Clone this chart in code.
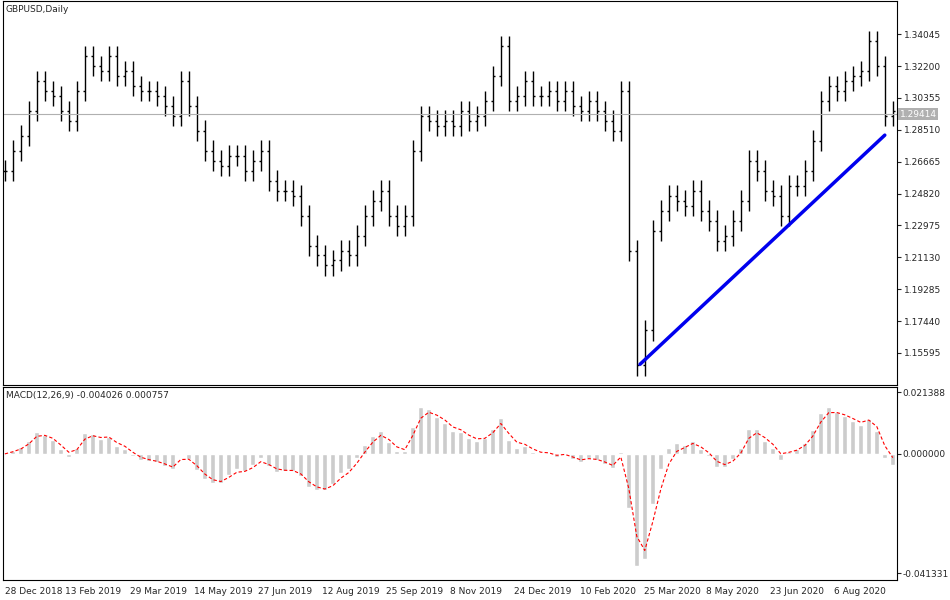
import numpy as np, pandas as pd, matplotlib
matplotlib.use("Agg")
import matplotlib.pyplot as plt, seaborn as sns

sns.set_style("white")
plt.rcParams['font.family'] = ['DejaVu Sans']

# price path (read every ~4 trading days), in screen-y units converted below
ys = [170,150,135,110,80,90,95,110,120,90,55,65,70,55,75,70,85,90,90,95,105,115,80,105,130,150,160,165,155,155,
      170,160,150,180,190,190,195,215,245,255,265,260,250,255,235,215,200,190,215,225,215,150,115,120,125,120,125,110,120,115,
      100,75,45,100,95,80,95,95,90,100,90,105,110,100,110,120,130,90,250,365,330,230,210,195,200,205,190,210,220,240,
      235,220,200,160,170,190,195,215,185,185,170,140,100,85,90,80,75,70,40,65,115,110]
close = [round(1.34045 - (y - 33) * 0.000577, 4) for y in ys]
date_labels = ["28 Dec 2018","13 Feb 2019","29 Mar 2019","14 May 2019","27 Jun 2019","12 Aug 2019","25 Sep 2019",
               "8 Nov 2019","24 Dec 2019","10 Feb 2020","25 Mar 2020","8 May 2020","23 Jun 2020","6 Aug 2020"]
label_px = [5,65,130,194,258,322,386,450,514,580,644,706,770,834]
trend_idx = [79.4, 110.0]
trend_px = [1.1494, 1.2820]
last_price = 1.29414

df = pd.DataFrame({"i": np.arange(len(close)), "c": close})
df["o"] = df["c"].shift(1).fillna(df["c"])
df["h"] = df[["o", "c"]].max(axis=1) + 0.006
df["l"] = df[["o", "c"]].min(axis=1) - 0.006
s = df["c"]
macd = s.ewm(span=3).mean() - s.ewm(span=6.5).mean()
sig = macd.ewm(span=2.25).mean()

fig = plt.figure(figsize=(9.5, 6), dpi=100)
ax = fig.add_axes([0.003, 0.358, 0.941, 0.640])
ax2 = fig.add_axes([0.003, 0.033, 0.941, 0.322])
for a in (ax, ax2):
    a.set_xlim(-0.25, 111.5)
    for sp in a.spines.values():
        sp.set_color("black"); sp.set_linewidth(0.8)

ax.vlines(df["i"], df["l"], df["h"], color="black", lw=1)
ax.hlines(df["o"], df["i"] - 0.25, df["i"], color="black", lw=1)
ax.hlines(df["c"], df["i"], df["i"] + 0.25, color="black", lw=1)
ax.axhline(last_price, color="#b0b0b0", lw=0.8)
sns.lineplot(x=trend_idx, y=trend_px, ax=ax, color="#0000ee", lw=2.5)
ax.set_ylim(1.1373, 1.3595)
ax.set_xticks([])
ax.yaxis.tick_right()
ax.set_yticks([1.34045,1.32200,1.30355,1.28510,1.26665,1.24820,1.22975,1.21130,1.19285,1.17440,1.15595])
ax.set_yticklabels([f"{v:.5f}" for v in ax.get_yticks()], fontsize=6.5)
ax.tick_params(axis="y", length=3, pad=2)
ax.text(1.003, (last_price - 1.1373) / (1.3595 - 1.1373), f"{last_price:.5f}", transform=ax.transAxes,
        fontsize=6.5, color="white", va="center", ha="left",
        bbox=dict(facecolor="#b0b0b0", edgecolor="none", pad=1))
ax.text(0.003, 0.99, "GBPUSD,Daily", transform=ax.transAxes, fontsize=6.5, va="top")

ax2.bar(df["i"], macd, width=0.6, color="#cccccc")
ax2.plot(df["i"], sig, color="red", lw=0.8, ls=(0, (3, 2)))
ax2.set_ylim(-0.0438, 0.0232)
ax2.yaxis.tick_right()
ax2.set_yticks([0.021388, 0.0, -0.041331])
ax2.set_yticklabels(["0.021388", "0.000000", "-0.041331"], fontsize=6.5)
ax2.tick_params(axis="y", length=3, pad=1)
ax2.text(0.003, 0.98, "MACD(12,26,9) -0.004026 0.000757", transform=ax2.transAxes, fontsize=6.5, va="top")
ax2.set_xticks([(p - 5) / 8 for p in label_px])
ax2.set_xticklabels(date_labels, fontsize=6.5, ha="left")
ax2.tick_params(axis="x", length=3, pad=2)

fig.savefig("out.png", dpi=100)
